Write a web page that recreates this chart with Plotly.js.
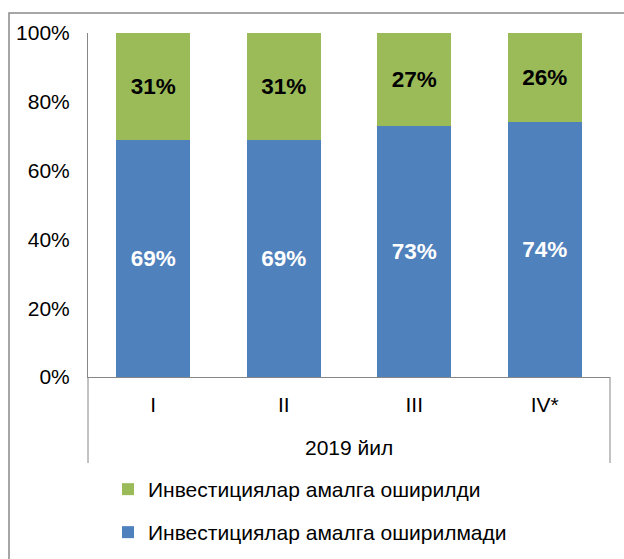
<!DOCTYPE html>
<html>
<head>
<meta charset="utf-8">
<script src="https://cdn.plot.ly/plotly-3.0.1.min.js"></script>
<style>html,body{margin:0;padding:0;background:#fff;}#chart{width:624px;height:559px;}</style>
</head>
<body>
<div id="chart"></div>
<script>
const categories = ["I", "II", "III", "IV*"];
const groupLabel = "2019 йил";
const notImplemented = [69, 69, 73, 74];
const implemented = [31, 31, 27, 26];
const nameNotImplemented = "Инвестициялар амалга оширилмади";
const nameImplemented = "Инвестициялар амалга оширилди";

const FONT = "Liberation Sans, Arial, sans-serif";

const traces = [
  {
    type: "bar", x: categories, y: notImplemented, name: nameNotImplemented,
    legend: "legend2",
    marker: {color: "#4F81BD"},
    text: notImplemented.map(v => v + "%"),
    texttemplate: "<b>%{text}</b>", textposition: "inside", insidetextanchor: "middle",
    textangle: 0,
    textfont: {family: FONT, size: 22.5, color: "#ffffff"},
    hoverinfo: "none"
  },
  {
    type: "bar", x: categories, y: implemented, name: nameImplemented,
    legend: "legend",
    marker: {color: "#9BBB59"},
    text: implemented.map(v => v + "%"),
    texttemplate: "<b>%{text}</b>", textposition: "inside", insidetextanchor: "middle",
    textangle: 0,
    textfont: {family: FONT, size: 22.5, color: "#000000"},
    hoverinfo: "none"
  }
];

const legendBase = {
  xref: "paper", yref: "paper", xanchor: "left", yanchor: "top",
  font: {family: FONT, size: 21, color: "#000"},
  itemwidth: 30, bgcolor: "rgba(0,0,0,0)"
};

const layout = {
  width: 624, height: 559,
  margin: {l: 88, r: 14, t: 33, b: 182, autoexpand: false},
  paper_bgcolor: "#ffffff", plot_bgcolor: "#ffffff",
  font: {family: FONT, size: 21, color: "#000"},
  barmode: "stack",
  bargap: 0.433,
  showlegend: true,
  legend: Object.assign({}, legendBase, {x: (108-88)/522, y: (377-469)/344}),
  legend2: Object.assign({}, legendBase, {x: (108-88)/522, y: (377-512)/344}),
  xaxis: {
    type: "category", showgrid: false, showline: true, linecolor: "#868686", linewidth: 1,
    ticks: "", ticklabelstandoff: 9, automargin: false,
    tickfont: {family: FONT, size: 21}
  },
  yaxis: {
    range: [0, 100], dtick: 20, ticksuffix: "%", showgrid: false, zeroline: false,
    showline: true, linecolor: "#868686", linewidth: 1, ticks: "",
    ticklabelstandoff: 13, automargin: false,
    tickfont: {family: FONT, size: 21}
  },
  shapes: [
    {type: "rect", xref: "paper", yref: "paper", x0: (9-88)/522, x1: (640-88)/522,
     y0: (377-580)/344, y1: (377-13)/344, line: {color: "#898989", width: 1.5}},
    {type: "line", xref: "paper", yref: "paper", x0: 0, x1: 0, y0: 0, y1: (377-463)/344,
     line: {color: "#868686", width: 1}},
    {type: "line", xref: "paper", yref: "paper", x0: 1, x1: 1, y0: 0, y1: (377-463)/344,
     line: {color: "#868686", width: 1}}
  ],
  annotations: [
    {text: groupLabel, xref: "paper", yref: "paper", x: 0.5, y: (377-447)/344,
     showarrow: false, xanchor: "center", yanchor: "middle",
     font: {family: FONT, size: 21, color: "#000"}}
  ]
};

Plotly.newPlot("chart", traces, layout, {displayModeBar: false, staticPlot: true});
</script>
</body>
</html>
